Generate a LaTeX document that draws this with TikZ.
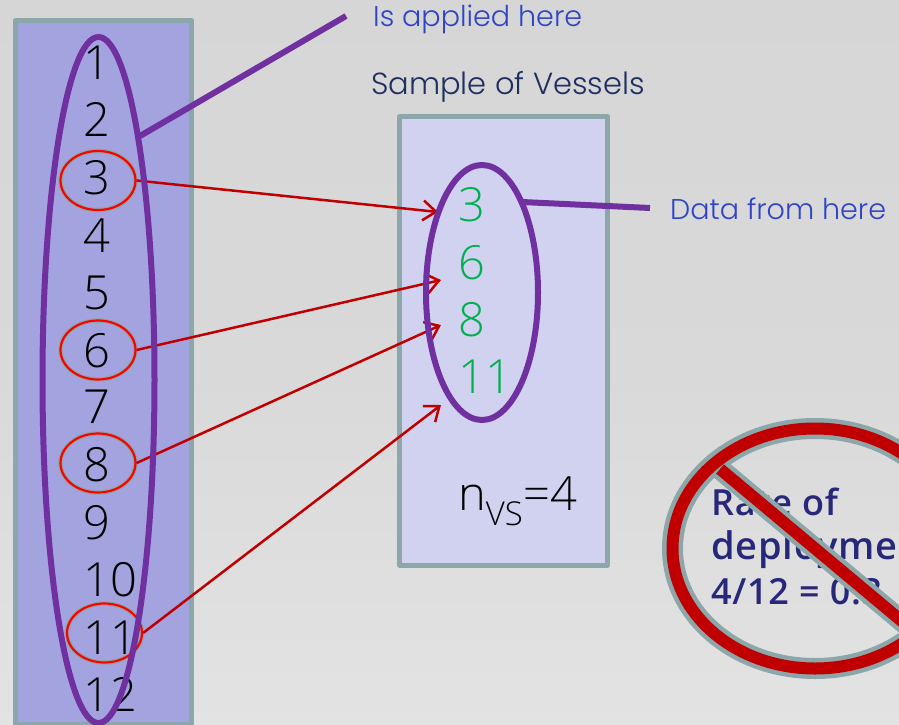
\documentclass[tikz,border=0pt]{standalone}
\usepackage{fontspec}
\setmainfont{Poppins}[UprightFont=*-Light,BoldFont=*-Medium]
\newfontfamily\boldlabel{Open Sans}[UprightFont=* Semibold,LetterSpace=2]
\newfontfamily\digitfont{Open Sans}[UprightFont=* Light]
\usetikzlibrary{shapes.geometric,arrows.meta}
\definecolor{framegray}{HTML}{8CA7A9}
\definecolor{listfill}{HTML}{A3A3DF}
\definecolor{samplefill}{HTML}{D1D2F0}
\definecolor{ringpurple}{HTML}{7030A0}
\definecolor{arrowred}{HTML}{C00000}
\definecolor{sampgreen}{HTML}{00B050}
\definecolor{linkblue}{HTML}{2F45C5}
\definecolor{navytext}{HTML}{1F2F60}
\definecolor{ratetext}{HTML}{28287A}
\tikzset{
  panel/.style={draw=framegray,line width=5pt,line join=round},
  numlabel/.style={anchor=base west,inner sep=0pt,font=\digitfont\fontsize{47}{47}\selectfont,text=black},
  samplabel/.style={numlabel,text=sampgreen},
  bluelabel/.style={anchor=base west,inner sep=0pt,font=\fontsize{28.6}{28.6}\selectfont,text=linkblue},
  ratelabel/.style={anchor=base west,inner sep=0pt,font=\boldlabel\fontsize{36}{36}\selectfont,text=ratetext},
  purplering/.style={ellipse,draw=ringpurple,line width=6pt,inner sep=0pt},
  redring/.style={ellipse,draw=red,line width=2.2pt,inner sep=0pt,minimum width=75pt,minimum height=59pt,
    preaction={draw=framegray,line width=4.5pt}},
  redarrow/.style={draw=arrowred,line width=2.5pt,-{Straight Barb[length=13pt,width=20pt,line width=2.5pt]}},
  purpleline/.style={draw=ringpurple,line width=6pt},
  nosign/.style={line width=#1,line cap=butt}
}
\begin{document}
\begin{tikzpicture}[x=1pt,y=-1pt]
\useasboundingbox (0,0) rectangle (899,725);
\clip (0,0) rectangle (899,725);
\shade[top color=black!16,bottom color=black!11,middle color=black!15] (0,0) rectangle (899,725);

% panels
\draw[panel,fill=listfill] (15.5,20.5) rectangle (191.5,724);
\draw[panel,fill=samplefill] (399.5,116.5) rectangle (607.5,565);

% left list
\node[numlabel] (n1) at (83,79) {1};
\node[numlabel] (n2) at (83,136) {2};
\node[numlabel] (n3) at (83,194) {3};
\node[numlabel] (n4) at (83,252) {4};
\node[numlabel] (n5) at (83,309) {5};
\node[numlabel] (n6) at (83,367) {6};
\node[numlabel] (n7) at (83,423) {7};
\node[numlabel] (n8) at (83,481) {8};
\node[numlabel] (n9) at (83,539) {9};
\node[numlabel] (n10) at (83,596) {10};
\node[numlabel] (n11) at (83,654) {11};
\node[numlabel] (n12) at (83,711) {12};

% sample list
\node[samplabel] (s3) at (458,221) {3};
\node[samplabel] (s6) at (458,279) {6};
\node[samplabel] (s8) at (458,336) {8};
\node[samplabel] (s11) at (458,393) {11};
\node[numlabel] (nvs) at (458,510) {n\textsubscript{VS}=4};

% texts
\node[bluelabel] (applied) at (373,27) {Is applied here};
\node[bluelabel,text=navytext,font=\fontsize{30.5}{30.5}\selectfont] (sample) at (371,94) {Sample of Vessels};
\node[bluelabel] (datafrom) at (670,219) {Data from here};
\node[ratelabel] (rate1) at (711,515) {Rate of};
\node[ratelabel,font=\boldlabel\fontsize{38}{38}\selectfont] (rate2) at (711,559) {deployme};
\node[ratelabel] (rate3) at (711,604) {4/12 = 0.3};

% red circles
\node[redring] (e3) at (98,180.5) {};
\node[redring] (e6) at (98,350) {};
\node[redring] (e8) at (98,463) {};
\node[redring] (e11) at (104.5,633) {};

% arrow ends
\coordinate (t3) at (438,212);
\coordinate (t6) at (441,280);
\coordinate (t8) at (441,325);
\coordinate (t11) at (441,405);
\draw[redarrow] (e3.east) -- (t3);
\draw[redarrow] (e6.east) -- (t6);
\draw[redarrow] (e8.east) -- (t8);
\draw[redarrow] (e11.east) -- (t11);

% purple rings
\node[purplering,minimum width=112pt,minimum height=686pt] (bigring) at (98.5,380) {};
\node[purplering,minimum width=112pt,minimum height=255pt] (smallring) at (482,292.5) {};
\coordinate (bigout) at (140,136);
\coordinate (appliedend) at (346,16);
\coordinate (smallout) at (522,202);
\coordinate (dataend) at (650,208);
\draw[purpleline] (bigout) -- (appliedend);
\draw[purpleline] (smallout) -- (dataend);

% no sign
\draw[framegray,nosign=21pt] (815,548.5) ellipse [x radius=142.5,y radius=120];
\draw[framegray,nosign=21pt] (720,469) -- (910,628);
\draw[arrowred,nosign=12pt] (815,548.5) ellipse [x radius=142.5,y radius=120];
\draw[arrowred,nosign=12pt] (720,469) -- (910,628);
\end{tikzpicture}
\end{document}
